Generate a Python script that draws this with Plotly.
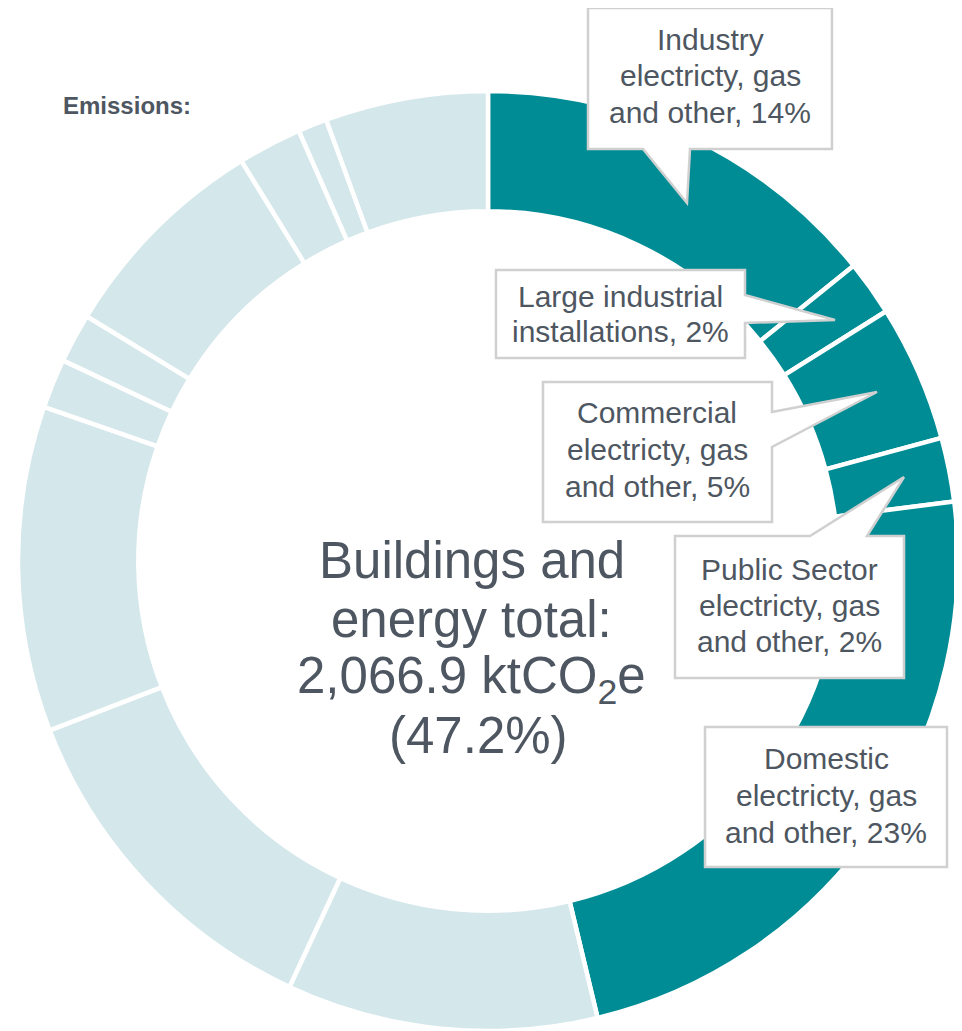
import plotly.graph_objects as go

W, H = 962, 1031
OFF = 8  # page body margin in the browser

# ---- data (share of total emissions, %) ----
building_labels = [
    "Industry electricity, gas and other",
    "Large industrial installations",
    "Commercial electricity, gas and other",
    "Public Sector electricity, gas and other",
    "Domestic electricity, gas and other",
]
building_values = [14.2, 1.9, 4.7, 2.2, 23.3]

other_labels = [f"Other emissions {i}" for i in range(1, 10)]
other_values = [10.7, 12.2, 11.2, 1.7, 1.7, 7.5, 2.2, 1.0, 5.6]

callout_texts = [
    ["Industry", "electricty, gas", "and other, 14%"],
    ["Large industrial", "installations, 2%"],
    ["Commercial", "electricty, gas", "and other, 5%"],
    ["Public Sector", "electricty, gas", "and other, 2%"],
    ["Domestic", "electricty, gas", "and other, 23%"],
]
center_lines = ["Buildings and", "energy total:", "2,066.9 ktCO<sub>2</sub>e", "(47.2%)"]
title_text = "<b>Emissions:</b>"

# ---- style ----
TEAL = "#008C95"
LIGHT = "#D4E7EB"
TEXT = "#4E5761"
BORDER = "#D0D0D0"
FONT = "Liberation Sans, Arial, sans-serif"

FW, FH = W - OFF, H - OFF


def px(x):
    return (x - OFF) / FW


def py(y):
    return 1 - (y - OFF) / FH


labels = building_labels + other_labels
values = building_values + other_values
colors = [TEAL] * len(building_values) + [LIGHT] * len(other_values)

cx, cy, r = 488, 561, 470
fig = go.Figure(
    go.Pie(
        labels=labels,
        values=values,
        sort=False,
        direction="clockwise",
        rotation=0,
        hole=0.744,
        marker=dict(colors=colors, line=dict(color="white", width=4.5)),
        textinfo="none",
        hoverinfo="label+percent",
        showlegend=False,
        domain=dict(x=[px(cx - r), px(cx + r)], y=[max(0, py(cy + r)), py(cy - r)]),
    )
)

# callout boxes (pixel outlines -> paper coordinates)
boxes = [
    [(588, 8), (832, 8), (832, 149), (690, 149), (687, 203), (643, 149), (588, 149)],
    [(496, 270), (745, 270), (745, 295), (835, 320), (745, 323), (745, 358), (496, 358)],
    [(543, 382), (772, 382), (772, 412), (877, 392), (772, 447), (772, 522), (543, 522)],
    [(675, 536), (810, 536), (904, 477), (867, 536), (904, 536), (904, 678), (675, 678)],
    [(705, 727), (947, 727), (947, 867), (705, 867)],
]
shapes = []
for pts in boxes:
    path = "M " + " L ".join(f"{px(x):.5f},{py(y):.5f}" for x, y in pts) + " Z"
    shapes.append(dict(type="path", path=path, xref="paper", yref="paper",
                       fillcolor="white", line=dict(color=BORDER, width=2.5),
                       layer="above"))

# callout text: (centre x, first baseline, line spacing)
text_pos = [(710, 50, 36.5), (620, 307, 35), (657, 423, 37), (789, 580, 36), (826, 769, 37)]
annotations = []
LFS = 30
for lines, (tx, b0, dy) in zip(callout_texts, text_pos):
    for i, line in enumerate(lines):
        annotations.append(dict(text=line, x=px(tx), y=py(b0 + i * dy - 0.35 * LFS),
                                xref="paper", yref="paper", xanchor="center", yanchor="middle",
                                showarrow=False, font=dict(family=FONT, size=LFS, color=TEXT)))

# centre text
CFS = 51
for line, base, xc in zip(center_lines, [578, 637, 697, 753], [472, 471, 471, 478]):
    annotations.append(dict(text=line, x=px(xc), y=py(base - 0.35 * CFS),
                            xref="paper", yref="paper", xanchor="center", yanchor="middle",
                            showarrow=False, font=dict(family=FONT, size=CFS, color=TEXT)))

annotations.append(dict(text=title_text, x=px(61), y=py(114 - 0.35 * 24), xref="paper", yref="paper",
                        xanchor="left", yanchor="middle", showarrow=False,
                        font=dict(family=FONT, size=24, color=TEXT)))

fig.update_layout(
    width=FW, height=FH,
    margin=dict(l=0, r=0, t=0, b=0),
    paper_bgcolor="white", plot_bgcolor="white",
    shapes=shapes, annotations=annotations,
)

fig.write_html("out.html")
